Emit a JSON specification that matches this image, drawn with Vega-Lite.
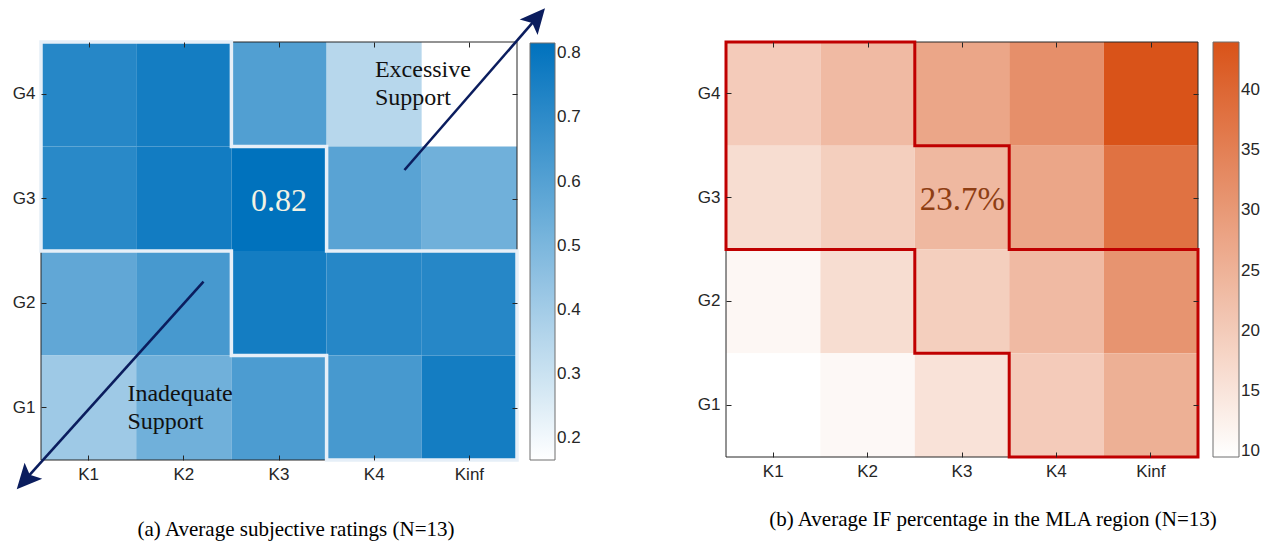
{
  "$schema": "https://vega.github.io/schema/vega-lite/v6.json",
  "background": "white",
  "padding": {"left": 12, "top": 8, "right": 3, "bottom": 5},
  "spacing": 116,
  "resolve": {"scale": {"color": "independent"}, "legend": {"color": "independent"}},
  "config": {
    "view": {"stroke": null},
    "axis": {"labelFont": "Liberation Sans", "labelFontSize": 17, "labelColor": "#262626", "tickColor": "#262626", "tickWidth": 1, "domain": false, "grid": false},
    "legend": {"labelFont": "Liberation Sans", "labelFontSize": 17, "labelColor": "#262626", "gradientStrokeColor": "#6e6e6e", "gradientStrokeWidth": 1, "padding": 0, "labelOffset": 8},
    "title": {"font": "Liberation Serif", "fontSize": 21, "fontWeight": "normal", "color": "#000000"}
  },
  "datasets": {
    "ratings": [
      {"g": "G4", "k": "K1", "v": 0.72}, {"g": "G4", "k": "K2", "v": 0.764}, {"g": "G4", "k": "K3", "v": 0.61}, {"g": "G4", "k": "K4", "v": 0.35}, {"g": "G4", "k": "Kinf", "v": 0.166},
      {"g": "G3", "k": "K1", "v": 0.712}, {"g": "G3", "k": "K2", "v": 0.77}, {"g": "G3", "k": "K3", "v": 0.816}, {"g": "G3", "k": "K4", "v": 0.59}, {"g": "G3", "k": "Kinf", "v": 0.53},
      {"g": "G2", "k": "K1", "v": 0.57}, {"g": "G2", "k": "K2", "v": 0.634}, {"g": "G2", "k": "K3", "v": 0.764}, {"g": "G2", "k": "K4", "v": 0.72}, {"g": "G2", "k": "Kinf", "v": 0.72},
      {"g": "G1", "k": "K1", "v": 0.413}, {"g": "G1", "k": "K2", "v": 0.53}, {"g": "G1", "k": "K3", "v": 0.621}, {"g": "G1", "k": "K4", "v": 0.634}, {"g": "G1", "k": "Kinf", "v": 0.764}
    ],
    "ifp": [
      {"g": "G4", "k": "K1", "v": 19.9}, {"g": "G4", "k": "K2", "v": 23.3}, {"g": "G4", "k": "K3", "v": 27.4}, {"g": "G4", "k": "K4", "v": 31.9}, {"g": "G4", "k": "Kinf", "v": 44.0},
      {"g": "G3", "k": "K1", "v": 16.4}, {"g": "G3", "k": "K2", "v": 19.2}, {"g": "G3", "k": "K3", "v": 23.7}, {"g": "G3", "k": "K4", "v": 27.4}, {"g": "G3", "k": "Kinf", "v": 37.8},
      {"g": "G2", "k": "K1", "v": 11.2}, {"g": "G2", "k": "K2", "v": 16.4}, {"g": "G2", "k": "K3", "v": 19.2}, {"g": "G2", "k": "K4", "v": 23.3}, {"g": "G2", "k": "Kinf", "v": 30.9},
      {"g": "G1", "k": "K1", "v": 9.5}, {"g": "G1", "k": "K2", "v": 10.9}, {"g": "G1", "k": "K3", "v": 15.4}, {"g": "G1", "k": "K4", "v": 19.9}, {"g": "G1", "k": "Kinf", "v": 25.4}
    ],
    "outline": [
      {"i": 0, "x": 0.5, "y": 4.5}, {"i": 1, "x": 2.5, "y": 4.5}, {"i": 2, "x": 2.5, "y": 3.5}, {"i": 3, "x": 3.5, "y": 3.5},
      {"i": 4, "x": 3.5, "y": 2.5}, {"i": 5, "x": 5.5, "y": 2.5}, {"i": 6, "x": 5.5, "y": 0.5}, {"i": 7, "x": 3.5, "y": 0.5},
      {"i": 8, "x": 3.5, "y": 1.5}, {"i": 9, "x": 2.5, "y": 1.5}, {"i": 10, "x": 2.5, "y": 2.5}, {"i": 11, "x": 0.5, "y": 2.5},
      {"i": 12, "x": 0.5, "y": 4.5}
    ],
    "arrows": [
      {"a": "up", "i": 0, "x": 4.318, "y": 3.275}, {"a": "up", "i": 1, "x": 5.691, "y": 4.714},
      {"a": "down", "i": 0, "x": 2.207, "y": 2.206}, {"a": "down", "i": 1, "x": 0.35, "y": 0.326}
    ],
    "heads": [
      {"a": "up", "x": 5.794, "y": 4.822},
      {"a": "down", "x": 0.245, "y": 0.22}
    ]
  },
  "hconcat": [
    {
      "width": 476,
      "height": 418,
      "title": {"text": "(a) Average subjective ratings (N=13)", "orient": "bottom", "anchor": "middle", "dx": 17, "offset": 30},
      "layer": [
        {
          "data": {"name": "ratings"},
          "mark": {"type": "rect", "strokeWidth": 0},
          "encoding": {
            "x": {"field": "k", "type": "nominal", "scale": {"domain": ["K1", "K2", "K3", "K4", "Kinf"], "paddingInner": 0, "paddingOuter": 0}, "axis": {"orient": "bottom", "title": null, "labelAngle": 0, "bandPosition": 0.5, "offset": -5, "tickSize": 5, "labelPadding": 6, "zindex": 3}},
            "y": {"field": "g", "type": "nominal", "scale": {"domain": ["G4", "G3", "G2", "G1"], "paddingInner": 0, "paddingOuter": 0}, "axis": {"orient": "left", "title": null, "bandPosition": 0.5, "offset": -5, "tickSize": 5, "labelPadding": 6, "zindex": 3}},
            "color": {"field": "v", "type": "quantitative", "scale": {"domain": [0.166, 0.816], "range": ["#ffffff", "#0072bd"], "interpolate": "rgb"}, "legend": {"title": null, "orient": "none", "legendX": 489, "legendY": 1, "values": [0.2, 0.3, 0.4, 0.5, 0.6, 0.7, 0.8], "format": ".1f", "gradientLength": 417, "gradientThickness": 25}}
          }
        },
        {
          "data": {"values": [{"frame": "box"}]},
          "mark": {"type": "rect", "fill": null, "fillOpacity": 0, "stroke": "#262626", "strokeWidth": 1},
          "encoding": {
            "x": {"datum": 0.5, "type": "quantitative", "scale": {"domain": [0.5, 5.5], "nice": false, "zero": false}, "axis": null},
            "x2": {"datum": 5.5},
            "y": {"datum": 0.5, "type": "quantitative", "scale": {"domain": [0.5, 4.5], "nice": false, "zero": false}, "axis": null},
            "y2": {"datum": 4.5}
          }
        },
        {
          "data": {"name": "outline"},
          "mark": {"type": "line", "color": "#e6eff8", "strokeWidth": 3.5, "strokeCap": "square", "strokeJoin": "miter"},
          "encoding": {
            "x": {"field": "x", "type": "quantitative", "scale": {"domain": [0.5, 5.5], "nice": false, "zero": false}, "axis": {"orient": "top", "values": [1, 2, 3, 4, 5], "labels": false, "offset": -5, "tickSize": 5, "title": null, "zindex": 3}},
            "y": {"field": "y", "type": "quantitative", "scale": {"domain": [0.5, 4.5], "nice": false, "zero": false}, "axis": {"orient": "right", "values": [1, 2, 3, 4], "labels": false, "offset": -5, "tickSize": 5, "title": null, "zindex": 3}},
            "order": {"field": "i", "type": "quantitative"}
          }
        },
        {
          "data": {"name": "arrows"},
          "mark": {"type": "line", "color": "#0b1d5e", "strokeWidth": 2.6},
          "encoding": {
            "x": {"field": "x", "type": "quantitative", "scale": {"domain": [0.5, 5.5], "nice": false, "zero": false}, "axis": null},
            "y": {"field": "y", "type": "quantitative", "scale": {"domain": [0.5, 4.5], "nice": false, "zero": false}, "axis": null},
            "detail": {"field": "a", "type": "nominal"},
            "order": {"field": "i", "type": "quantitative"}
          }
        },
        {
          "data": {"name": "heads"},
          "transform": [{"filter": "datum.a === 'up'"}],
          "mark": {"type": "point", "shape": "M0,0 L1,2.1 L0,1.64 L-1,2.1 Z", "size": 564, "filled": true, "opacity": 1, "color": "#0b1d5e", "strokeWidth": 0, "angle": 41},
          "encoding": {
            "x": {"field": "x", "type": "quantitative", "scale": {"domain": [0.5, 5.5], "nice": false, "zero": false}, "axis": null},
            "y": {"field": "y", "type": "quantitative", "scale": {"domain": [0.5, 4.5], "nice": false, "zero": false}, "axis": null}
          }
        },
        {
          "data": {"name": "heads"},
          "transform": [{"filter": "datum.a === 'down'"}],
          "mark": {"type": "point", "shape": "M0,0 L1,2.1 L0,1.64 L-1,2.1 Z", "size": 564, "filled": true, "opacity": 1, "color": "#0b1d5e", "strokeWidth": 0, "angle": 222},
          "encoding": {
            "x": {"field": "x", "type": "quantitative", "scale": {"domain": [0.5, 5.5], "nice": false, "zero": false}, "axis": null},
            "y": {"field": "y", "type": "quantitative", "scale": {"domain": [0.5, 4.5], "nice": false, "zero": false}, "axis": null}
          }
        },
        {
          "data": {"values": [
            {"t": "Excessive\nSupport", "x": 4.008, "y": 4.168},
            {"t": "Inadequate\nSupport", "x": 1.408, "y": 1.065}
          ]},
          "mark": {"type": "text", "font": "Liberation Serif", "fontSize": 24, "align": "left", "baseline": "alphabetic", "lineBreak": "\n", "lineHeight": 28.5, "color": "#111111"},
          "encoding": {
            "x": {"field": "x", "type": "quantitative", "scale": {"domain": [0.5, 5.5], "nice": false, "zero": false}, "axis": null},
            "y": {"field": "y", "type": "quantitative", "scale": {"domain": [0.5, 4.5], "nice": false, "zero": false}, "axis": null},
            "text": {"field": "t"}
          }
        },
        {
          "data": {"values": [{"t": "0.82", "x": 3.0, "y": 2.98}]},
          "mark": {"type": "text", "font": "Liberation Serif", "fontSize": 32, "align": "center", "baseline": "middle", "color": "#f2f2e4"},
          "encoding": {
            "x": {"field": "x", "type": "quantitative", "scale": {"domain": [0.5, 5.5], "nice": false, "zero": false}, "axis": null},
            "y": {"field": "y", "type": "quantitative", "scale": {"domain": [0.5, 4.5], "nice": false, "zero": false}, "axis": null},
            "text": {"field": "t"}
          }
        }
      ],
      "resolve": {"scale": {"x": "independent", "y": "independent"}, "axis": {"x": "independent", "y": "independent"}}
    },
    {
      "width": 472,
      "height": 415,
      "title": {"text": "(b) Average IF percentage in the MLA region (N=13)", "orient": "bottom", "anchor": "middle", "dx": 31, "offset": 30},
      "layer": [
        {
          "data": {"name": "ifp"},
          "mark": {"type": "rect", "strokeWidth": 0},
          "encoding": {
            "x": {"field": "k", "type": "nominal", "scale": {"domain": ["K1", "K2", "K3", "K4", "Kinf"], "paddingInner": 0, "paddingOuter": 0}, "axis": {"orient": "bottom", "title": null, "labelAngle": 0, "bandPosition": 0.5, "offset": -5, "tickSize": 5, "labelPadding": 6, "zindex": 3}},
            "y": {"field": "g", "type": "nominal", "scale": {"domain": ["G4", "G3", "G2", "G1"], "paddingInner": 0, "paddingOuter": 0}, "axis": {"orient": "left", "title": null, "bandPosition": 0.5, "offset": -5, "tickSize": 5, "labelPadding": 6, "zindex": 3}},
            "color": {"field": "v", "type": "quantitative", "scale": {"domain": [9.5, 44.0], "range": ["#ffffff", "#d95319"], "interpolate": "rgb"}, "legend": {"title": null, "orient": "none", "legendX": 487, "legendY": 0, "values": [10, 15, 20, 25, 30, 35, 40], "gradientLength": 415, "gradientThickness": 26}}
          }
        },
        {
          "data": {"values": [{"frame": "box"}]},
          "mark": {"type": "rect", "fill": null, "fillOpacity": 0, "stroke": "#262626", "strokeWidth": 1},
          "encoding": {
            "x": {"datum": 0.5, "type": "quantitative", "scale": {"domain": [0.5, 5.5], "nice": false, "zero": false}, "axis": null},
            "x2": {"datum": 5.5},
            "y": {"datum": 0.5, "type": "quantitative", "scale": {"domain": [0.5, 4.5], "nice": false, "zero": false}, "axis": null},
            "y2": {"datum": 4.5}
          }
        },
        {
          "data": {"name": "outline"},
          "mark": {"type": "line", "color": "#c00000", "strokeWidth": 3, "strokeCap": "square", "strokeJoin": "miter"},
          "encoding": {
            "x": {"field": "x", "type": "quantitative", "scale": {"domain": [0.5, 5.5], "nice": false, "zero": false}, "axis": {"orient": "top", "values": [1, 2, 3, 4, 5], "labels": false, "offset": -5, "tickSize": 5, "title": null, "zindex": 3}},
            "y": {"field": "y", "type": "quantitative", "scale": {"domain": [0.5, 4.5], "nice": false, "zero": false}, "axis": {"orient": "right", "values": [1, 2, 3, 4], "labels": false, "offset": -5, "tickSize": 5, "title": null, "zindex": 3}},
            "order": {"field": "i", "type": "quantitative"}
          }
        },
        {
          "data": {"values": [{"t": "23.7%", "x": 3.005, "y": 2.977}]},
          "mark": {"type": "text", "font": "Liberation Serif", "fontSize": 33, "align": "center", "baseline": "middle", "color": "#8e3e14"},
          "encoding": {
            "x": {"field": "x", "type": "quantitative", "scale": {"domain": [0.5, 5.5], "nice": false, "zero": false}, "axis": null},
            "y": {"field": "y", "type": "quantitative", "scale": {"domain": [0.5, 4.5], "nice": false, "zero": false}, "axis": null},
            "text": {"field": "t"}
          }
        }
      ],
      "resolve": {"scale": {"x": "independent", "y": "independent"}, "axis": {"x": "independent", "y": "independent"}}
    }
  ]
}
